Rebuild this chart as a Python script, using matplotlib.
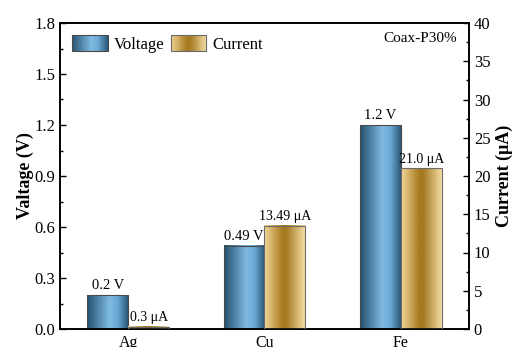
import numpy as np
import matplotlib
matplotlib.use("Agg")
import matplotlib.pyplot as plt
from matplotlib.colors import LinearSegmentedColormap
from matplotlib.patches import Rectangle
from matplotlib.legend_handler import HandlerBase
from matplotlib.ticker import MultipleLocator

metals = ["Ag", "Cu", "Fe"]
voltage = [0.2, 0.49, 1.2]          # V
current = [0.3, 13.49, 21.0]        # uA
voltage_labels = ["0.2 V", "0.49 V", "1.2 V"]
current_labels = ["0.3 \u03bcA", "13.49 \u03bcA", "21.0 \u03bcA"]

plt.rcParams["font.family"] = ["Liberation Serif", "DejaVu Serif"]
plt.rcParams["mathtext.fontset"] = "stix"

blue_cmap = LinearSegmentedColormap.from_list(
    "blue_grad", [(0.0, "#24506f"), (0.55, "#7fbbe2"), (0.75, "#6aa8d4"), (1.0, "#2a5878")])
gold_cmap = LinearSegmentedColormap.from_list(
    "gold_grad", [(0.0, "#f3d89a"), (0.45, "#a77a1f"), (0.55, "#a47a24"), (1.0, "#f5dda4")])

fig = plt.figure(figsize=(5.15, 3.47), dpi=100)
ax1 = fig.add_axes([60 / 515, 1 - 329 / 347, 409 / 515, 306 / 347])
ax2 = ax1.twinx()

x = np.arange(len(metals))
w = 0.3
grad = np.linspace(0, 1, 256).reshape(1, -1)


def gradient_bars(ax, bars, cmap):
    for b in bars:
        x0, y0 = b.get_x(), b.get_y()
        x1, y1 = x0 + b.get_width(), y0 + b.get_height()
        ax.imshow(grad, cmap=cmap, extent=(x0, x1, y0, y1), aspect="auto",
                  interpolation="bilinear", zorder=2)


vb = ax1.bar(x - w / 2, voltage, w, facecolor="none", edgecolor="#4a4a4a",
             linewidth=0.8, zorder=3)
cb = ax2.bar(x + w / 2, current, w, facecolor="none", edgecolor="#6a6a6a",
             linewidth=0.8, zorder=3)
gradient_bars(ax1, vb, blue_cmap)
gradient_bars(ax2, cb, gold_cmap)

for b, t in zip(vb, voltage_labels):
    ax1.text(b.get_x() + b.get_width() / 2, b.get_height() + 0.015, t,
             ha="center", va="bottom", fontsize=10.5)
for b, t in zip(cb, current_labels):
    ax2.text(b.get_x() + b.get_width() / 2, b.get_height() + 0.35, t,
             ha="center", va="bottom", fontsize=10)

ax1.set_xlim(-0.5, 2.5)
ax1.set_ylim(0, 1.8)
ax2.set_ylim(0, 40)
ax1.set_xticks(x)
ax1.set_xticklabels(metals, fontsize=11.5)
ax1.tick_params(axis="x", length=0, pad=4)
ax1.yaxis.set_major_locator(MultipleLocator(0.3))
ax1.yaxis.set_minor_locator(MultipleLocator(0.15))
ax2.yaxis.set_major_locator(MultipleLocator(5))
ax2.yaxis.set_minor_locator(MultipleLocator(2.5))
ax1.yaxis.set_major_formatter(matplotlib.ticker.FormatStrFormatter("%.1f"))
for ax in (ax1, ax2):
    ax.tick_params(axis="y", which="major", direction="in", length=4, width=1,
                   labelsize=12)
    ax.tick_params(axis="y", which="minor", direction="in", length=2, width=1)
    for s in ax.spines.values():
        s.set_linewidth(1.2)

ax1.set_ylabel("Valtage (V)", fontsize=13, fontweight="bold", labelpad=0)
ax2.set_ylabel("Current (\u03bcA)", fontsize=13, fontweight="bold", labelpad=4)

ax1.text(0.97, 0.97, "Coax-P30%", transform=ax1.transAxes, ha="right",
         va="top", fontsize=11)


class GradientHandler(HandlerBase):
    def __init__(self, cmap, edge):
        super().__init__()
        self.cmap = cmap
        self.edge = edge

    def create_artists(self, legend, orig_handle, xdescent, ydescent, width,
                       height, fontsize, trans):
        n = 40
        artists = []
        for i in range(n):
            r = Rectangle((-xdescent + width * i / n, -ydescent), width / n + 0.3,
                          height, facecolor=self.cmap((i + 0.5) / n),
                          edgecolor="none", transform=trans)
            artists.append(r)
        artists.append(Rectangle((-xdescent, -ydescent), width, height,
                                 facecolor="none", edgecolor=self.edge,
                                 linewidth=0.8, transform=trans))
        return artists


h1 = Rectangle((0, 0), 1, 1)
h2 = Rectangle((0, 0), 1, 1)
ax1.legend([h1, h2], ["Voltage", "Current"], loc="upper left",
           ncol=2, frameon=False, fontsize=12, handlelength=2.15,
           handleheight=1.15, handletextpad=0.35, columnspacing=0.4,
           borderaxespad=0.3, bbox_to_anchor=(0.0, 1.0),
           handler_map={h1: GradientHandler(blue_cmap, "#4a4a4a"),
                        h2: GradientHandler(gold_cmap, "#6a6a6a")})

fig.savefig("out.png", dpi=100)
